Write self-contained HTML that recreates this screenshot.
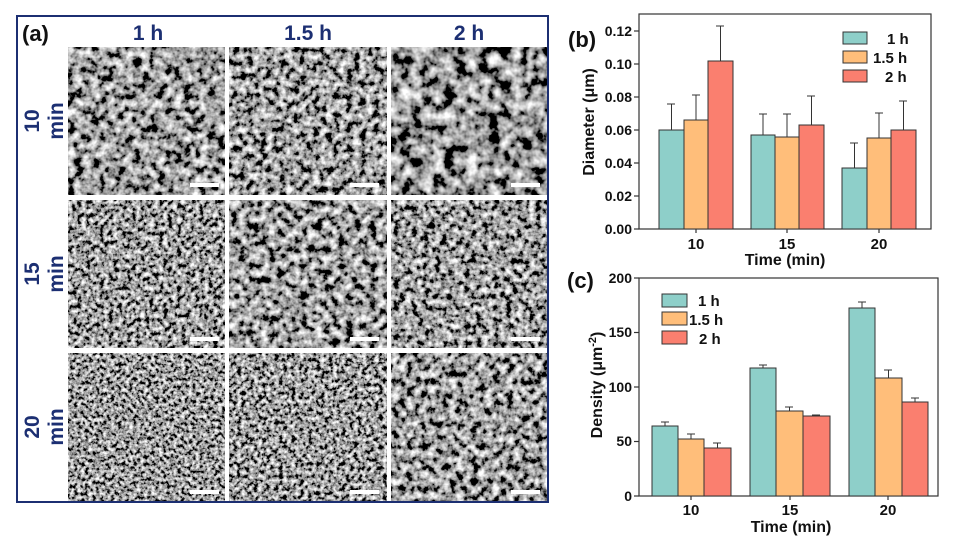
<!DOCTYPE html>
<html><head><meta charset="utf-8"><style>html,body{margin:0;padding:0;background:#fff}svg{display:block}</style></head>
<body>
<svg width="955" height="546" viewBox="0 0 955 546" xmlns="http://www.w3.org/2000/svg" font-family="Liberation Sans, Arial, sans-serif">
<defs>
<filter id="n1" x="0" y="0" width="1" height="1"><feTurbulence type="fractalNoise" baseFrequency="0.12" numOctaves="3" seed="1"/><feColorMatrix type="matrix" values="2.3 0 0 0 -0.8 2.3 0 0 0 -0.8 2.3 0 0 0 -0.8 0 0 0 0 1"/></filter>
<filter id="n2" x="0" y="0" width="1" height="1"><feTurbulence type="fractalNoise" baseFrequency="0.15" numOctaves="3" seed="2"/><feColorMatrix type="matrix" values="2.3 0 0 0 -0.8 2.3 0 0 0 -0.8 2.3 0 0 0 -0.8 0 0 0 0 1"/></filter>
<filter id="n3" x="0" y="0" width="1" height="1"><feTurbulence type="fractalNoise" baseFrequency="0.09" numOctaves="3" seed="3"/><feColorMatrix type="matrix" values="2.3 0 0 0 -0.82 2.3 0 0 0 -0.82 2.3 0 0 0 -0.82 0 0 0 0 1"/></filter>
<filter id="n4" x="0" y="0" width="1" height="1"><feTurbulence type="fractalNoise" baseFrequency="0.22" numOctaves="3" seed="4"/><feColorMatrix type="matrix" values="2.3 0 0 0 -0.8 2.3 0 0 0 -0.8 2.3 0 0 0 -0.8 0 0 0 0 1"/></filter>
<filter id="n5" x="0" y="0" width="1" height="1"><feTurbulence type="fractalNoise" baseFrequency="0.13" numOctaves="3" seed="5"/><feColorMatrix type="matrix" values="2.3 0 0 0 -0.8 2.3 0 0 0 -0.8 2.3 0 0 0 -0.8 0 0 0 0 1"/></filter>
<filter id="n6" x="0" y="0" width="1" height="1"><feTurbulence type="fractalNoise" baseFrequency="0.17" numOctaves="3" seed="6"/><feColorMatrix type="matrix" values="2.3 0 0 0 -0.8 2.3 0 0 0 -0.8 2.3 0 0 0 -0.8 0 0 0 0 1"/></filter>
<filter id="n7" x="0" y="0" width="1" height="1"><feTurbulence type="fractalNoise" baseFrequency="0.27" numOctaves="3" seed="7"/><feColorMatrix type="matrix" values="2.3 0 0 0 -0.8 2.3 0 0 0 -0.8 2.3 0 0 0 -0.8 0 0 0 0 1"/></filter>
<filter id="n8" x="0" y="0" width="1" height="1"><feTurbulence type="fractalNoise" baseFrequency="0.24" numOctaves="3" seed="8"/><feColorMatrix type="matrix" values="2.3 0 0 0 -0.8 2.3 0 0 0 -0.8 2.3 0 0 0 -0.8 0 0 0 0 1"/></filter>
<filter id="n9" x="0" y="0" width="1" height="1"><feTurbulence type="fractalNoise" baseFrequency="0.14" numOctaves="3" seed="9"/><feColorMatrix type="matrix" values="2.3 0 0 0 -0.8 2.3 0 0 0 -0.8 2.3 0 0 0 -0.8 0 0 0 0 1"/></filter>
</defs>

<!-- Panel (a) -->
<rect x="17" y="16" width="531" height="486" fill="#fff" stroke="#1c2f72" stroke-width="2"/>
<rect x="68" y="47" width="157" height="148" filter="url(#n1)"/>
<rect x="229" y="47" width="158" height="148" filter="url(#n2)"/>
<rect x="391" y="47" width="156" height="148" filter="url(#n3)"/>
<rect x="68" y="200" width="157" height="148" filter="url(#n4)"/>
<rect x="229" y="200" width="158" height="148" filter="url(#n5)"/>
<rect x="391" y="200" width="156" height="148" filter="url(#n6)"/>
<rect x="68" y="353" width="157" height="148" filter="url(#n7)"/>
<rect x="229" y="353" width="158" height="148" filter="url(#n8)"/>
<rect x="391" y="353" width="156" height="148" filter="url(#n9)"/>
<g fill="#fff">
<rect x="190" y="183" width="29" height="4"/><rect x="350" y="183" width="29" height="4"/><rect x="511" y="183" width="29" height="4"/>
<rect x="190" y="337" width="29" height="4"/><rect x="350" y="337" width="29" height="4"/><rect x="511" y="337" width="29" height="4"/>
<rect x="190" y="490" width="29" height="4"/><rect x="350" y="490" width="29" height="4"/><rect x="511" y="490" width="29" height="4"/>
</g>
<text x="22" y="41" font-size="22" font-weight="bold" fill="#111">(a)</text>
<g fill="#1c2f72" font-size="21" font-weight="bold" text-anchor="middle">
<text x="148" y="40">1 h</text><text x="308" y="40">1.5 h</text><text x="469" y="40">2 h</text>
<g transform="translate(39,121) rotate(-90)"><text x="0" y="0">10</text></g>
<g transform="translate(63,121) rotate(-90)"><text x="0" y="0">min</text></g>
<g transform="translate(39,274) rotate(-90)"><text x="0" y="0">15</text></g>
<g transform="translate(63,274) rotate(-90)"><text x="0" y="0">min</text></g>
<g transform="translate(39,427) rotate(-90)"><text x="0" y="0">20</text></g>
<g transform="translate(63,427) rotate(-90)"><text x="0" y="0">min</text></g>
</g>

<!-- Panel (b) -->
<text x="568" y="47" font-size="22" font-weight="bold" fill="#111">(b)</text>
<g stroke="#333" stroke-width="1.2">
<rect x="639" y="14" width="292" height="215" fill="none"/>
<line x1="639" y1="229" x2="634" y2="229"/><line x1="639" y1="196" x2="634" y2="196"/><line x1="639" y1="163" x2="634" y2="163"/><line x1="639" y1="130" x2="634" y2="130"/><line x1="639" y1="97" x2="634" y2="97"/><line x1="639" y1="64" x2="634" y2="64"/><line x1="639" y1="31" x2="634" y2="31"/>
<line x1="696" y1="229" x2="696" y2="233"/><line x1="787" y1="229" x2="787" y2="233"/><line x1="879" y1="229" x2="879" y2="233"/>
</g>
<g font-size="14" font-weight="bold" fill="#111" text-anchor="end">
<text x="632" y="234">0.00</text><text x="632" y="201">0.02</text><text x="632" y="168">0.04</text><text x="632" y="135">0.06</text><text x="632" y="102">0.08</text><text x="632" y="69">0.10</text><text x="632" y="36">0.12</text>
</g>
<g font-size="15" font-weight="bold" fill="#111" text-anchor="middle">
<text x="696" y="249">10</text><text x="787" y="249">15</text><text x="879" y="249">20</text>
<text x="785" y="265" font-size="16">Time (min)</text>
<g transform="translate(594,122) rotate(-90)"><text x="0" y="0" font-size="16">Diameter (μm)</text></g>
</g>
<g stroke="#333" stroke-width="1">
<path d="M671.5 130V104M667 104h8 M696 120V95M692 95h8 M720.5 61V26M716 26h8 M763 135V114M759 114h8 M787 137V114M783 114h8 M811.5 125V96M807 96h8 M854.5 168V143M850 143h8 M879 138V113M875 113h8 M903.5 130V101M899 101h8" fill="none"/>
<rect x="659" y="130" width="25" height="99" fill="#8ecfc9"/><rect x="684" y="120" width="24" height="109" fill="#ffbe7a"/><rect x="708" y="61" width="25" height="168" fill="#fa7f6f"/>
<rect x="751" y="135" width="24" height="94" fill="#8ecfc9"/><rect x="775" y="137" width="24" height="92" fill="#ffbe7a"/><rect x="799" y="125" width="25" height="104" fill="#fa7f6f"/>
<rect x="842" y="168" width="25" height="61" fill="#8ecfc9"/><rect x="867" y="138" width="24" height="91" fill="#ffbe7a"/><rect x="891" y="130" width="25" height="99" fill="#fa7f6f"/>
<rect x="843" y="32" width="24" height="12" fill="#8ecfc9"/><rect x="843" y="51" width="24" height="12" fill="#ffbe7a"/><rect x="843" y="70" width="24" height="12" fill="#fa7f6f"/>
</g>
<g font-size="15" font-weight="bold" fill="#111">
<text x="887" y="44">1 h</text><text x="873" y="63">1.5 h</text><text x="885" y="82">2 h</text>
</g>

<!-- Panel (c) -->
<text x="567" y="288" font-size="22" font-weight="bold" fill="#111">(c)</text>
<g stroke="#333" stroke-width="1.2">
<rect x="639" y="278" width="299" height="218" fill="none"/>
<line x1="639" y1="496" x2="634" y2="496"/><line x1="639" y1="441.5" x2="634" y2="441.5"/><line x1="639" y1="387" x2="634" y2="387"/><line x1="639" y1="332.5" x2="634" y2="332.5"/><line x1="639" y1="278" x2="634" y2="278"/>
<line x1="691" y1="496" x2="691" y2="500"/><line x1="790" y1="496" x2="790" y2="500"/><line x1="888" y1="496" x2="888" y2="500"/>
</g>
<g font-size="14" font-weight="bold" fill="#111" text-anchor="end">
<text x="632" y="501">0</text><text x="632" y="446">50</text><text x="632" y="392">100</text><text x="632" y="337">150</text><text x="632" y="283">200</text>
</g>
<g font-size="15" font-weight="bold" fill="#111" text-anchor="middle">
<text x="691" y="515">10</text><text x="790" y="515">15</text><text x="888" y="515">20</text>
<text x="791" y="532" font-size="16">Time (min)</text>
<g transform="translate(602,385) rotate(-90)"><text x="0" y="0" font-size="16">Density (μm<tspan dy="-6" font-size="11">-2</tspan><tspan dy="6">)</tspan></text></g>
</g>
<g stroke="#333" stroke-width="1">
<path d="M665 426V422M661 422h8 M691 439V434M687 434h8 M717.5 448V443M713 443h8 M763 368V365M759 365h8 M789.5 411V407M785 407h8 M816.5 416V415M812 415h8 M862 308V302M858 302h8 M888.5 378V370M884 370h8 M915 402V398M911 398h8" fill="none"/>
<rect x="652" y="426" width="26" height="70" fill="#8ecfc9"/><rect x="678" y="439" width="26" height="57" fill="#ffbe7a"/><rect x="704" y="448" width="27" height="48" fill="#fa7f6f"/>
<rect x="750" y="368" width="26" height="128" fill="#8ecfc9"/><rect x="776" y="411" width="27" height="85" fill="#ffbe7a"/><rect x="803" y="416" width="27" height="80" fill="#fa7f6f"/>
<rect x="849" y="308" width="26" height="188" fill="#8ecfc9"/><rect x="875" y="378" width="27" height="118" fill="#ffbe7a"/><rect x="902" y="402" width="26" height="94" fill="#fa7f6f"/>
<rect x="662" y="294" width="25" height="13" fill="#8ecfc9"/><rect x="662" y="312" width="25" height="13" fill="#ffbe7a"/><rect x="662" y="331" width="25" height="13" fill="#fa7f6f"/>
</g>
<g font-size="15" font-weight="bold" fill="#111">
<text x="698" y="306">1 h</text><text x="689" y="325">1.5 h</text><text x="699" y="344">2 h</text>
</g>
</svg>
</body></html>
